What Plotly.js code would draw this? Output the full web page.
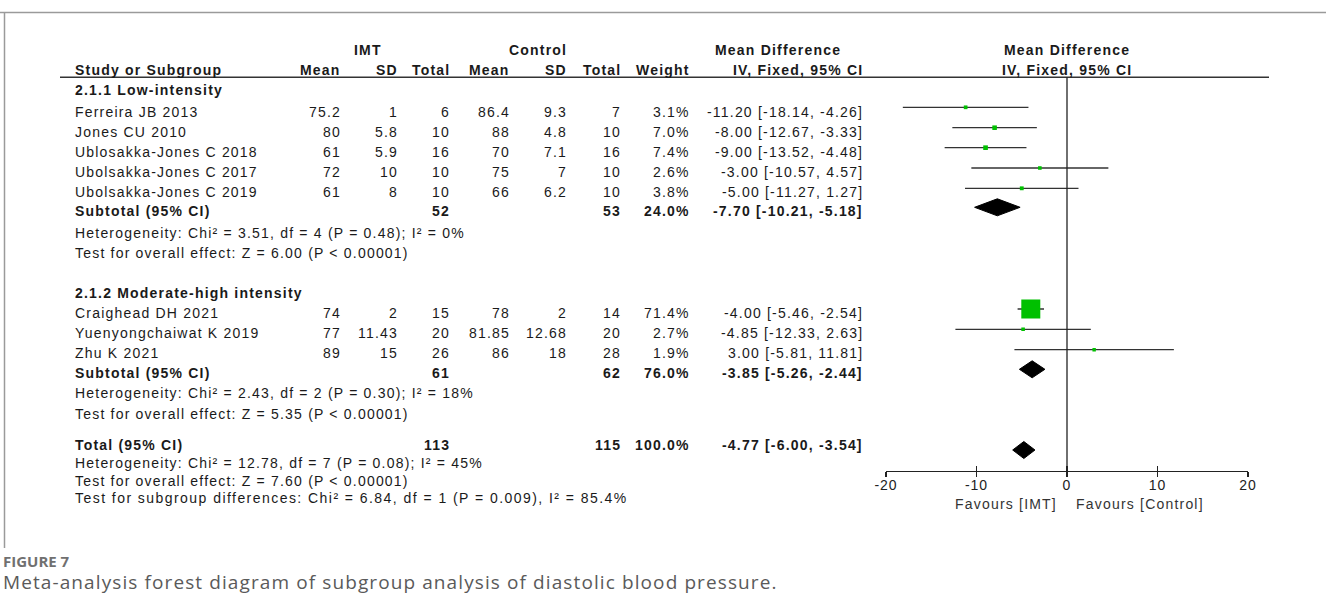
<!DOCTYPE html>
<html><head><meta charset="utf-8">
<script src="https://cdn.plot.ly/plotly-3.0.1.min.js"></script>
<style>html,body{margin:0;padding:0;background:#fff;} .xtick text{letter-spacing:1px;}</style>
</head><body><div id="chart" style="width:1326px;height:604px;"></div>
<script>
// ---------------- data ----------------
const studies = ['Ferreira JB 2013','Jones CU 2010','Ublosakka-Jones C 2018','Ubolsakka-Jones C 2017','Ubolsakka-Jones C 2019','Craighead DH 2021','Yuenyongchaiwat K 2019','Zhu K 2021'];
const imtMean = [75.2, 80, 61, 72, 61, 74, 77, 89];
const imtSD   = [1, 5.8, 5.9, 10, 8, 2, 11.43, 15];
const imtN    = [6, 10, 16, 10, 10, 15, 20, 26];
const ctlMean = [86.4, 88, 70, 75, 66, 78, 81.85, 86];
const ctlSD   = [9.3, 4.8, 7.1, 7, 6.2, 2, 12.68, 18];
const ctlN    = [7, 10, 16, 10, 10, 14, 20, 28];
const weight  = [3.1, 7.0, 7.4, 2.6, 3.8, 71.4, 2.7, 1.9];
const md      = [-11.20, -8.00, -9.00, -3.00, -5.00, -4.00, -4.85, 3.00];
const ciLo    = [-18.14, -12.67, -13.52, -10.57, -11.27, -5.46, -12.33, -5.81];
const ciHi    = [-4.26, -3.33, -4.48, 4.57, 1.27, -2.54, 2.63, 11.81];

const groupNames = ['2.1.1 Low-intensity', '2.1.2 Moderate-high intensity'];
const subImtN   = [52, 61];
const subCtlN   = [53, 62];
const subWeight = [24.0, 76.0];
const subMd     = [-7.70, -3.85];
const subLo     = [-10.21, -5.26];
const subHi     = [-5.18, -2.44];
const subHet    = ['Heterogeneity: Chi² = 3.51, df = 4 (P = 0.48); I² = 0%', 'Heterogeneity: Chi² = 2.43, df = 2 (P = 0.30); I² = 18%'];
const subTest   = ['Test for overall effect: Z = 6.00 (P &lt; 0.00001)', 'Test for overall effect: Z = 5.35 (P &lt; 0.00001)'];

const totImtN = 113, totCtlN = 115, totWeight = 100.0, totMd = -4.77, totLo = -6.00, totHi = -3.54;
const totNotes = ['Heterogeneity: Chi² = 12.78, df = 7 (P = 0.08); I² = 45%',
                  'Test for overall effect: Z = 7.60 (P &lt; 0.00001)',
                  'Test for subgroup differences: Chi² = 6.84, df = 1 (P = 0.009), I² = 85.4%'];
const tickVals = [-20, -10, 0, 10, 20];
const tickText = ['-20', '-10', '0', '10', '20'];
const favourLeft = 'Favours [IMT]', favourRight = 'Favours [Control]';
const figLabel = 'FIGURE 7';
const caption = 'Meta-analysis forest diagram of subgroup analysis of diastolic blood pressure.';

// ---------------- layout geometry (pixels) ----------------
const W = 1326, H = 604;
const AXIS_Y = 470.7;
const PLOT_L = 886, PLOT_R = 1248;
const HEAD_LINE_Y = 77.3;
const studyTextY = [112, 132, 152, 172, 192, 313, 333, 353];
const studyMarkY = [107.3, 127.7, 147.7, 168, 188.3, 309, 329.3, 349.7];
const groupHeadY = [90, 293];
const subTextY = [211, 373];
const subDiamY = [207.3, 369.3];
const subHetY = [233, 393];
const subTestY = [253, 414];
const totTextY = 445, totDiamY = 450;
const totNotesY = [463, 481, 498];
const COL = {name: 74, imtMean: 341.7, imtSD: 399, imtN: 451, ctlMean: 510.7, ctlSD: 568, ctlN: 621.7, weight: 690.7, ci: 864.3};

const px = x => x / W;
const py = y => 1 - y / H;
const FONT = '"Liberation Sans", Arial, sans-serif';
const TXT = '#1a1a1a';
const SP = 'letter-spacing:1.2px';

const annotations = [];
function ann(text, x, y, anchor, bold, extra, spacing) {
  const t = bold ? '<b>' + text + '</b>' : text;
  annotations.push(Object.assign({
    text: '<span style="letter-spacing:' + (spacing || 1.2) + 'px">' + t + '</span>', x: px(x), y: py(y), xref: 'paper', yref: 'paper',
    xanchor: anchor, yanchor: 'middle', showarrow: false, borderpad: 0,
    font: {family: FONT, size: 14, color: TXT}
  }, extra || {}));
}
const fmtCI = (m, l, h) => m.toFixed(2) + ' [' + l.toFixed(2) + ', ' + h.toFixed(2) + ']';

// headers
ann('IMT', 368, 50, 'center', true);
ann('Control', 538.3, 50, 'center', true);
ann('Mean Difference', 778.3, 50, 'center', true);
ann('Mean Difference', 1066.7, 50, 'center', true);
ann('Study or Subgroup', COL.name, 70, 'left', true);
ann('Mean', COL.imtMean, 70, 'right', true);
ann('SD', COL.imtSD, 70, 'right', true);
ann('Total', COL.imtN, 70, 'right', true);
ann('Mean', COL.ctlMean, 70, 'right', true);
ann('SD', COL.ctlSD, 70, 'right', true);
ann('Total', COL.ctlN, 70, 'right', true);
ann('Weight', COL.weight, 70, 'right', true);
ann('IV, Fixed, 95% CI', COL.ci, 70, 'right', true);
ann('IV, Fixed, 95% CI', 1066.7, 70, 'center', true);

// group rows
for (let g = 0; g < 2; g++) {
  ann(groupNames[g], COL.name, groupHeadY[g], 'left', true);
  ann('Subtotal (95% CI)', COL.name, subTextY[g], 'left', true);
  ann(String(subImtN[g]), COL.imtN, subTextY[g], 'right', true);
  ann(String(subCtlN[g]), COL.ctlN, subTextY[g], 'right', true);
  ann(subWeight[g].toFixed(1) + '%', COL.weight, subTextY[g], 'right', true);
  ann(fmtCI(subMd[g], subLo[g], subHi[g]), COL.ci, subTextY[g], 'right', true);
  ann(subHet[g], COL.name, subHetY[g], 'left', false);
  ann(subTest[g], COL.name, subTestY[g], 'left', false);
}
// study rows
studies.forEach((s, i) => {
  const y = studyTextY[i];
  ann(s, COL.name, y, 'left', false);
  ann(String(imtMean[i]), COL.imtMean, y, 'right', false);
  ann(String(imtSD[i]), COL.imtSD, y, 'right', false);
  ann(String(imtN[i]), COL.imtN, y, 'right', false);
  ann(String(ctlMean[i]), COL.ctlMean, y, 'right', false);
  ann(String(ctlSD[i]), COL.ctlSD, y, 'right', false);
  ann(String(ctlN[i]), COL.ctlN, y, 'right', false);
  ann(weight[i].toFixed(1) + '%', COL.weight, y, 'right', false);
  ann(fmtCI(md[i], ciLo[i], ciHi[i]), COL.ci, y, 'right', false);
});
// total
ann('Total (95% CI)', COL.name, totTextY, 'left', true);
ann(String(totImtN), COL.imtN, totTextY, 'right', true);
ann(String(totCtlN), COL.ctlN, totTextY, 'right', true);
ann(totWeight.toFixed(1) + '%', COL.weight, totTextY, 'right', true);
ann(fmtCI(totMd, totLo, totHi), COL.ci, totTextY, 'right', true);
totNotes.forEach((t, k) => ann(t, COL.name, totNotesY[k], 'left', false, null, k === 2 ? 1.45 : 1.2));
// favours
ann(favourLeft, 1058, 504, 'right', false, {font: {family: FONT, size: 14, color: '#333'}});
ann(favourRight, 1075, 504, 'left', false, {font: {family: FONT, size: 14, color: '#333'}});
// caption
annotations.push({text: '<b>' + figLabel + '</b>', x: px(2), y: py(561), xref: 'paper', yref: 'paper', xanchor: 'left', yanchor: 'middle',
  showarrow: false, borderpad: 0, font: {family: '"Open Sans", sans-serif', size: 15, color: '#707070', weight: 600}});
annotations.push({text: '<span style="letter-spacing:1.1px">' + caption + '</span>', x: px(2), y: py(582), xref: 'paper', yref: 'paper', xanchor: 'left', yanchor: 'middle',
  showarrow: false, borderpad: 0, font: {family: '"Open Sans", sans-serif', size: 19, color: '#5a5a5a'}});

// ---------------- traces ----------------
const ciX = [], ciY = [];
md.forEach((m, i) => { ciX.push(ciLo[i], ciHi[i], null); ciY.push(studyMarkY[i], studyMarkY[i], null); });
const traces = [
  {type: 'scatter', mode: 'lines', x: ciX, y: ciY, line: {color: '#333', width: 1.3}, hoverinfo: 'skip'},
  {type: 'scatter', mode: 'markers', x: md, y: studyMarkY, opacity: 1,
   marker: {symbol: 'square', color: '#00c000', opacity: 1, size: weight.map(w => 3 + 16 * w / 71.4), line: {width: 0}}, hoverinfo: 'skip'}
];
function diamond(m, l, h, yc) {
  traces.push({type: 'scatter', mode: 'lines', x: [l, m, h, m, l], y: [yc, yc - 8.5, yc, yc + 8.5, yc],
    fill: 'toself', fillcolor: '#000', line: {color: '#000', width: 1}, hoverinfo: 'skip'});
}
for (let g = 0; g < 2; g++) diamond(subMd[g], subLo[g], subHi[g], subDiamY[g]);
diamond(totMd, totLo, totHi, totDiamY);
traces.push({type: 'scatter', mode: 'markers', x: [0], y: [0], xaxis: 'x2', marker: {opacity: 0}, hoverinfo: 'skip'});

const shapes = [
  {type: 'line', xref: 'paper', yref: 'paper', x0: 0, x1: 1, y0: py(12.5), y1: py(12.5), line: {color: '#9a9a9a', width: 1.5}},
  {type: 'line', xref: 'paper', yref: 'paper', x0: px(4.5), x1: px(4.5), y0: py(12.5), y1: py(548), line: {color: '#9a9a9a', width: 1.5}},
  {type: 'line', xref: 'paper', yref: 'paper', x0: px(60), x1: px(1269), y0: py(HEAD_LINE_Y), y1: py(HEAD_LINE_Y), line: {color: '#333', width: 1.6}},
  {type: 'line', xref: 'x', yref: 'y', x0: 0, x1: 0, y0: HEAD_LINE_Y, y1: AXIS_Y, line: {color: '#222', width: 1.3}}
];

const layout = {
  width: W, height: H, margin: {l: 0, r: 0, t: 0, b: 0}, showlegend: false,
  paper_bgcolor: '#fff', plot_bgcolor: 'rgba(0,0,0,0)',
  xaxis: {domain: [PLOT_L / W, PLOT_R / W], range: [-20, 20], showline: true, linecolor: '#222', linewidth: 1.3,
    ticks: 'outside', ticklen: 4.5, tickwidth: 1.3, tickcolor: '#222', tickvals: tickVals, ticktext: tickText,
    ticklabelstandoff: -3,
    tickfont: {family: FONT, size: 14, color: '#222'}, showgrid: false, zeroline: false, anchor: 'y', fixedrange: true},
  xaxis2: {overlaying: 'x', range: [-20, 20], anchor: 'y', ticks: 'inside', ticklen: 4.5, tickwidth: 1.3, tickcolor: '#222',
    tickvals: tickVals, showticklabels: false, showline: false, showgrid: false, zeroline: false, fixedrange: true},
  yaxis: {domain: [(H - AXIS_Y) / H, 1], range: [AXIS_Y, 0], visible: false, fixedrange: true},
  annotations: annotations, shapes: shapes
};
Plotly.newPlot('chart', traces, layout, {displayModeBar: false, staticPlot: true});
</script></body></html>
